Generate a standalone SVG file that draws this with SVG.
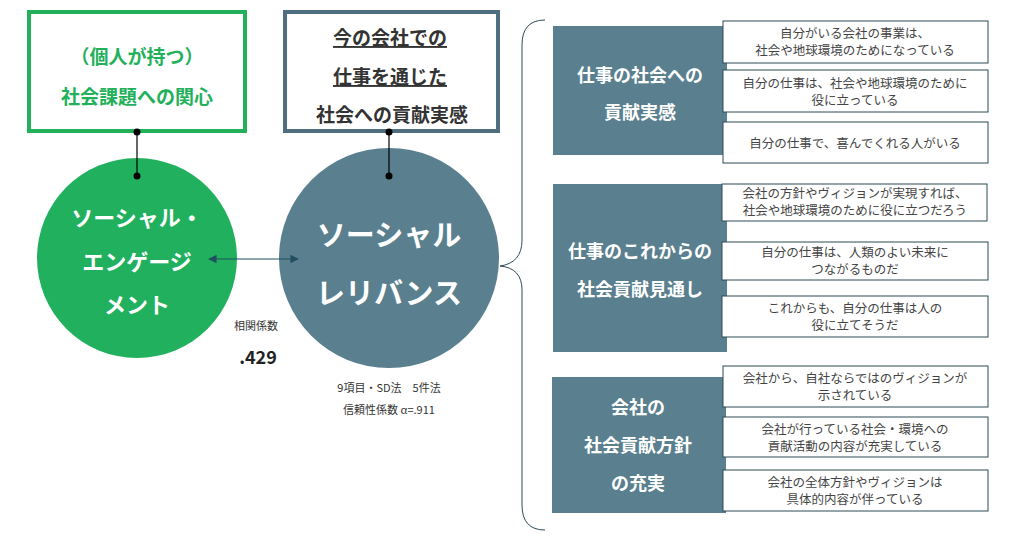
<svg xmlns="http://www.w3.org/2000/svg" width="1015" height="550" viewBox="0 0 1015 550">
<defs>
<style>
text{font-family:"Noto Sans CJK JP","Noto Sans",sans-serif;text-anchor:middle}
.gt{fill:#22b05a;font-size:19px;font-weight:bold}
.bt{fill:#333;font-size:19px;font-weight:bold}
.ct{fill:#fff;font-weight:bold}
.blk{fill:#5a7f8e}
.bx{fill:#fff;stroke:#2d4a55;stroke-width:1}
.it{fill:#444;font-size:12.5px}
.sm{fill:#333;font-size:11px}
</style>
<marker id="ah" viewBox="0 0 10 10" refX="9" refY="5" markerWidth="7" markerHeight="7" orient="auto-start-reverse"><path d="M0,0 L10,5 L0,10 z" fill="#1f4e5f"/></marker>
</defs>
<rect width="1015" height="550" fill="#fff"/>
<g id="box-interest">
<rect x="29" y="12" width="216" height="119" fill="#fff" stroke="#22b05a" stroke-width="4"/>
<text class="gt" x="137" y="64">（個人が持つ）</text>
<text class="gt" x="137" y="104">社会課題への関心</text>
</g>
<g id="box-feeling">
<rect x="285" y="12" width="213" height="119" fill="#fff" stroke="#4f6f80" stroke-width="4"/>
<text class="bt" x="390" y="45" text-decoration="underline">今の会社での</text>
<text class="bt" x="390" y="84" text-decoration="underline">仕事を通じた</text>
<text class="bt" x="392" y="122">社会への貢献実感</text>
</g>
<g id="engagement">
<circle cx="137" cy="258" r="100" fill="#20b05e"/>
<text class="ct" font-size="22" x="137" y="226">ソーシャル・</text>
<text class="ct" font-size="22" x="137" y="270">エンゲージ</text>
<text class="ct" font-size="22" x="137" y="313">メント</text>
</g>
<g id="relevance">
<circle cx="389" cy="258" r="110" fill="#5a7f8e"/>
<text class="ct" font-size="29" x="389" y="246">ソーシャル</text>
<text class="ct" font-size="29" x="389" y="304">レリバンス</text>
</g>
<g id="connectors">
<line x1="137" y1="132" x2="137" y2="176" stroke="#000" stroke-width="1.2"/>
<circle cx="137" cy="132" r="3.5"/><circle cx="137" cy="176" r="3.5"/>
<line x1="389" y1="132" x2="389" y2="176" stroke="#000" stroke-width="1.2"/>
<circle cx="389" cy="132" r="3.5"/><circle cx="389" cy="176" r="3.5"/>
<line x1="209" y1="259" x2="298" y2="259" stroke="#1f4e5f" stroke-width="1.2" marker-start="url(#ah)" marker-end="url(#ah)"/>
<path d="M545 20 Q522 20 522 45 L522 240 Q522 263 500 266 Q522 268 522 290 L522 505 Q522 530 545 530" fill="none" stroke="#2d4a55" stroke-width="1"/>
</g>
<g id="labels">
<text class="sm" x="256" y="330">相関係数</text>
<text x="258" y="364" font-size="18" font-weight="bold" fill="#222">.429</text>
<text class="sm" x="389" y="392">9項目・SD法　5件法</text>
<text class="sm" x="389" y="414">信頼性係数 α=.911</text>
</g>
<g id="cat1">
<rect class="blk" x="553" y="26" width="174" height="129"/>
<text class="ct" font-size="18" x="640" y="82">仕事の社会への</text>
<text class="ct" font-size="18" x="640" y="119">貢献実感</text>
</g>
<g id="cat2">
<rect class="blk" x="553" y="184" width="174" height="168"/>
<text class="ct" font-size="18" x="640" y="258">仕事のこれからの</text>
<text class="ct" font-size="18" x="640" y="296">社会貢献見通し</text>
</g>
<g id="cat3">
<rect class="blk" x="552" y="377" width="174" height="136"/>
<text class="ct" font-size="18" x="638" y="414">会社の</text>
<text class="ct" font-size="18" x="638" y="452">社会貢献方針</text>
<text class="ct" font-size="18" x="638" y="490">の充実</text>
</g>
<g id="items">
<rect class="bx" x="723" y="21" width="265" height="42"/>
<text class="it" x="855" y="38">自分がいる会社の事業は、</text>
<text class="it" x="855" y="55">社会や地球環境のためになっている</text>
<rect class="bx" x="723" y="70" width="265" height="42"/>
<text class="it" x="855" y="88">自分の仕事は、社会や地球環境のために</text>
<text class="it" x="855" y="105">役に立っている</text>
<rect class="bx" x="723" y="122" width="265" height="41"/>
<text class="it" x="855" y="148">自分の仕事で、喜んでくれる人がいる</text>
<rect class="bx" x="722" y="184" width="265" height="37"/>
<text class="it" x="855" y="198">会社の方針やヴィジョンが実現すれば、</text>
<text class="it" x="855" y="215">社会や地球環境のために役に立つだろう</text>
<rect class="bx" x="722" y="242" width="266" height="38"/>
<text class="it" x="855" y="257">自分の仕事は、人類のよい未来に</text>
<text class="it" x="855" y="274">つながるものだ</text>
<rect class="bx" x="722" y="296" width="266" height="41"/>
<text class="it" x="855" y="313">これからも、自分の仕事は人の</text>
<text class="it" x="855" y="330">役に立てそうだ</text>
<rect class="bx" x="723" y="366" width="265" height="41"/>
<text class="it" x="855" y="383">会社から、自社ならではのヴィジョンが</text>
<text class="it" x="855" y="400">示されている</text>
<rect class="bx" x="723" y="417" width="265" height="40"/>
<text class="it" x="855" y="434">会社が行っている社会・環境への</text>
<text class="it" x="855" y="451">貢献活動の内容が充実している</text>
<rect class="bx" x="723" y="470" width="265" height="41"/>
<text class="it" x="855" y="487">会社の全体方針やヴィジョンは</text>
<text class="it" x="855" y="504">具体的内容が伴っている</text>
</g>
</svg>
